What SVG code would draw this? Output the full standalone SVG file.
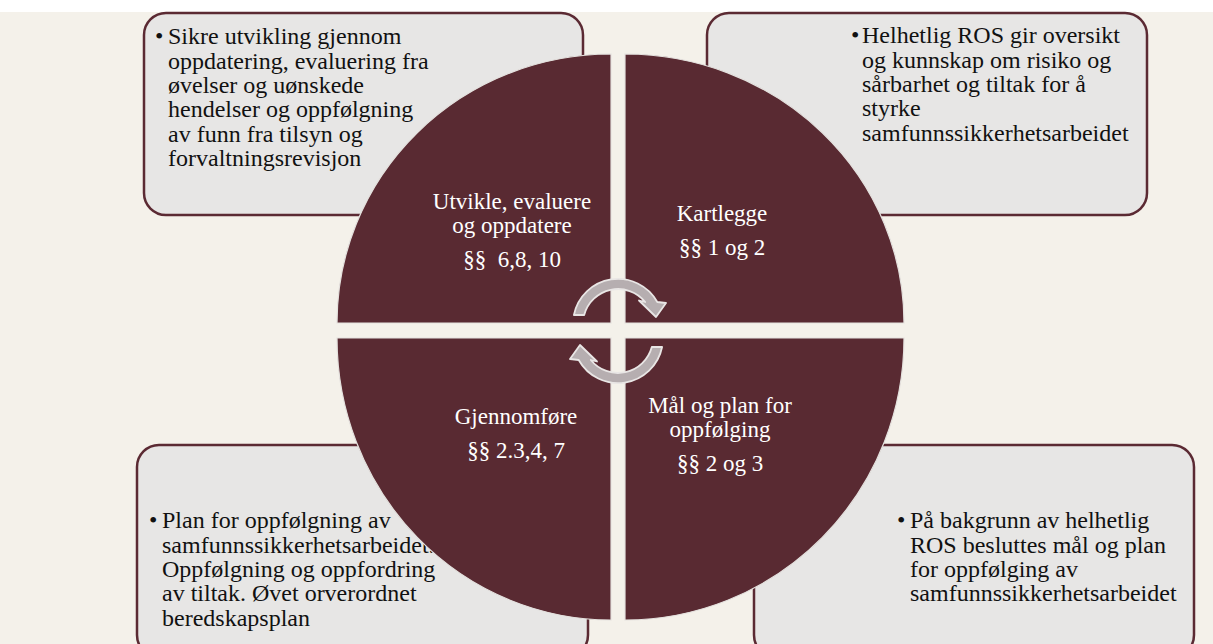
<svg xmlns="http://www.w3.org/2000/svg" width="1213" height="644" viewBox="0 0 1213 644">
<style>
.box{fill:#e7e6e5;stroke:#5b2a33;stroke-width:2.5}
.bt{font-family:'Liberation Serif','Times New Roman',serif;font-size:24px;fill:#111}
.q{fill:#592a32;stroke:#e4e1de;stroke-width:1.2}
.ct{font-family:'Liberation Serif','Times New Roman',serif;font-size:23px;fill:#ffffff;text-anchor:middle}
.arr{fill:#b6aeb0;stroke:#e9e6e5;stroke-width:1.8;stroke-linejoin:round}
</style>
<rect x="0" y="0" width="1213" height="644" fill="#f4f1ea"/>
<rect x="0" y="0" width="1213" height="12" fill="#ffffff"/>

<g id="box-tl">
<rect class="box" x="144" y="13" width="439" height="202" rx="22"/>
<text class="bt" x="155" y="44">•</text>
<text class="bt"><tspan x="168" y="44">Sikre utvikling gjennom</tspan><tspan x="168" y="68.5">oppdatering, evaluering fra</tspan><tspan x="168" y="93">øvelser og uønskede</tspan><tspan x="168" y="117">hendelser og oppfølgning</tspan><tspan x="168" y="141.5">av funn fra tilsyn og</tspan><tspan x="168" y="166">forvaltningsrevisjon</tspan></text>
</g>
<g id="box-tr">
<rect class="box" x="707" y="13" width="440" height="202" rx="22"/>
<text class="bt" x="851" y="43">•</text>
<text class="bt"><tspan x="862" y="43">Helhetlig ROS gir oversikt</tspan><tspan x="862" y="67.5">og kunnskap om risiko og</tspan><tspan x="862" y="92">sårbarhet og tiltak for å</tspan><tspan x="862" y="116">styrke</tspan><tspan x="862" y="140.5">samfunnssikkerhetsarbeidet</tspan></text>
</g>
<g id="box-bl">
<rect class="box" x="137" y="445" width="451" height="212" rx="22"/>
<text class="bt" x="149" y="528">•</text>
<text class="bt"><tspan x="162" y="528">Plan for oppfølgning av</tspan><tspan x="162" y="552.5">samfunnssikkerhetsarbeidet.</tspan><tspan x="162" y="577">Oppfølgning og oppfordring</tspan><tspan x="162" y="601">av tiltak. Øvet orverordnet</tspan><tspan x="162" y="625.5">beredskapsplan</tspan></text>
</g>
<g id="box-br">
<rect class="box" x="754" y="445" width="440" height="212" rx="22"/>
<text class="bt" x="897" y="528">•</text>
<text class="bt"><tspan x="910" y="528">På bakgrunn av helhetlig</tspan><tspan x="910" y="552.5">ROS besluttes mål og plan</tspan><tspan x="910" y="577">for oppfølging av</tspan><tspan x="910" y="601">samfunnssikkerhetsarbeidet</tspan></text>
</g>

<g id="q-utvikle">
<path class="q" d="M611,323 L337,323 A274,269 0 0 1 611,54 Z"/>
<text class="ct"><tspan x="512" y="209">Utvikle, evaluere</tspan><tspan x="512" y="233">og oppdatere</tspan><tspan x="512" y="267" xml:space="preserve">§§  6,8, 10</tspan></text>
</g>
<g id="q-kartlegge">
<path class="q" d="M625,323 L625,54 A279,269 0 0 1 904,323 Z"/>
<text class="ct"><tspan x="722" y="221">Kartlegge</tspan><tspan x="722" y="255">§§ 1 og 2</tspan></text>
</g>
<g id="q-maal">
<path class="q" d="M625,338 L904,338 A279,282 0 0 1 625,620 Z"/>
<text class="ct"><tspan x="720" y="413">Mål og plan for</tspan><tspan x="720" y="437">oppfølging</tspan><tspan x="720" y="471">§§ 2 og 3</tspan></text>
</g>
<g id="q-gjennomfore">
<path class="q" d="M611,338 L611,620 A274,282 0 0 1 337,338 Z"/>
<text class="ct"><tspan x="516" y="424">Gjennomføre</tspan><tspan x="516" y="458">§§ 2.3,4, 7</tspan></text>
</g>

<g id="connectors">
<path class="arr" d="M573.9,315 A45,45 0 0 1 657.3,302 L666,303 L656,317 L639,300.5 L645.2,302 A35,35 0 0 0 584.2,315 Z"/>
<path class="arr" transform="rotate(180 618 331)" d="M573.9,315 A45,45 0 0 1 657.3,302 L666,303 L656,317 L639,300.5 L645.2,302 A35,35 0 0 0 584.2,315 Z"/>
</g>
</svg>
